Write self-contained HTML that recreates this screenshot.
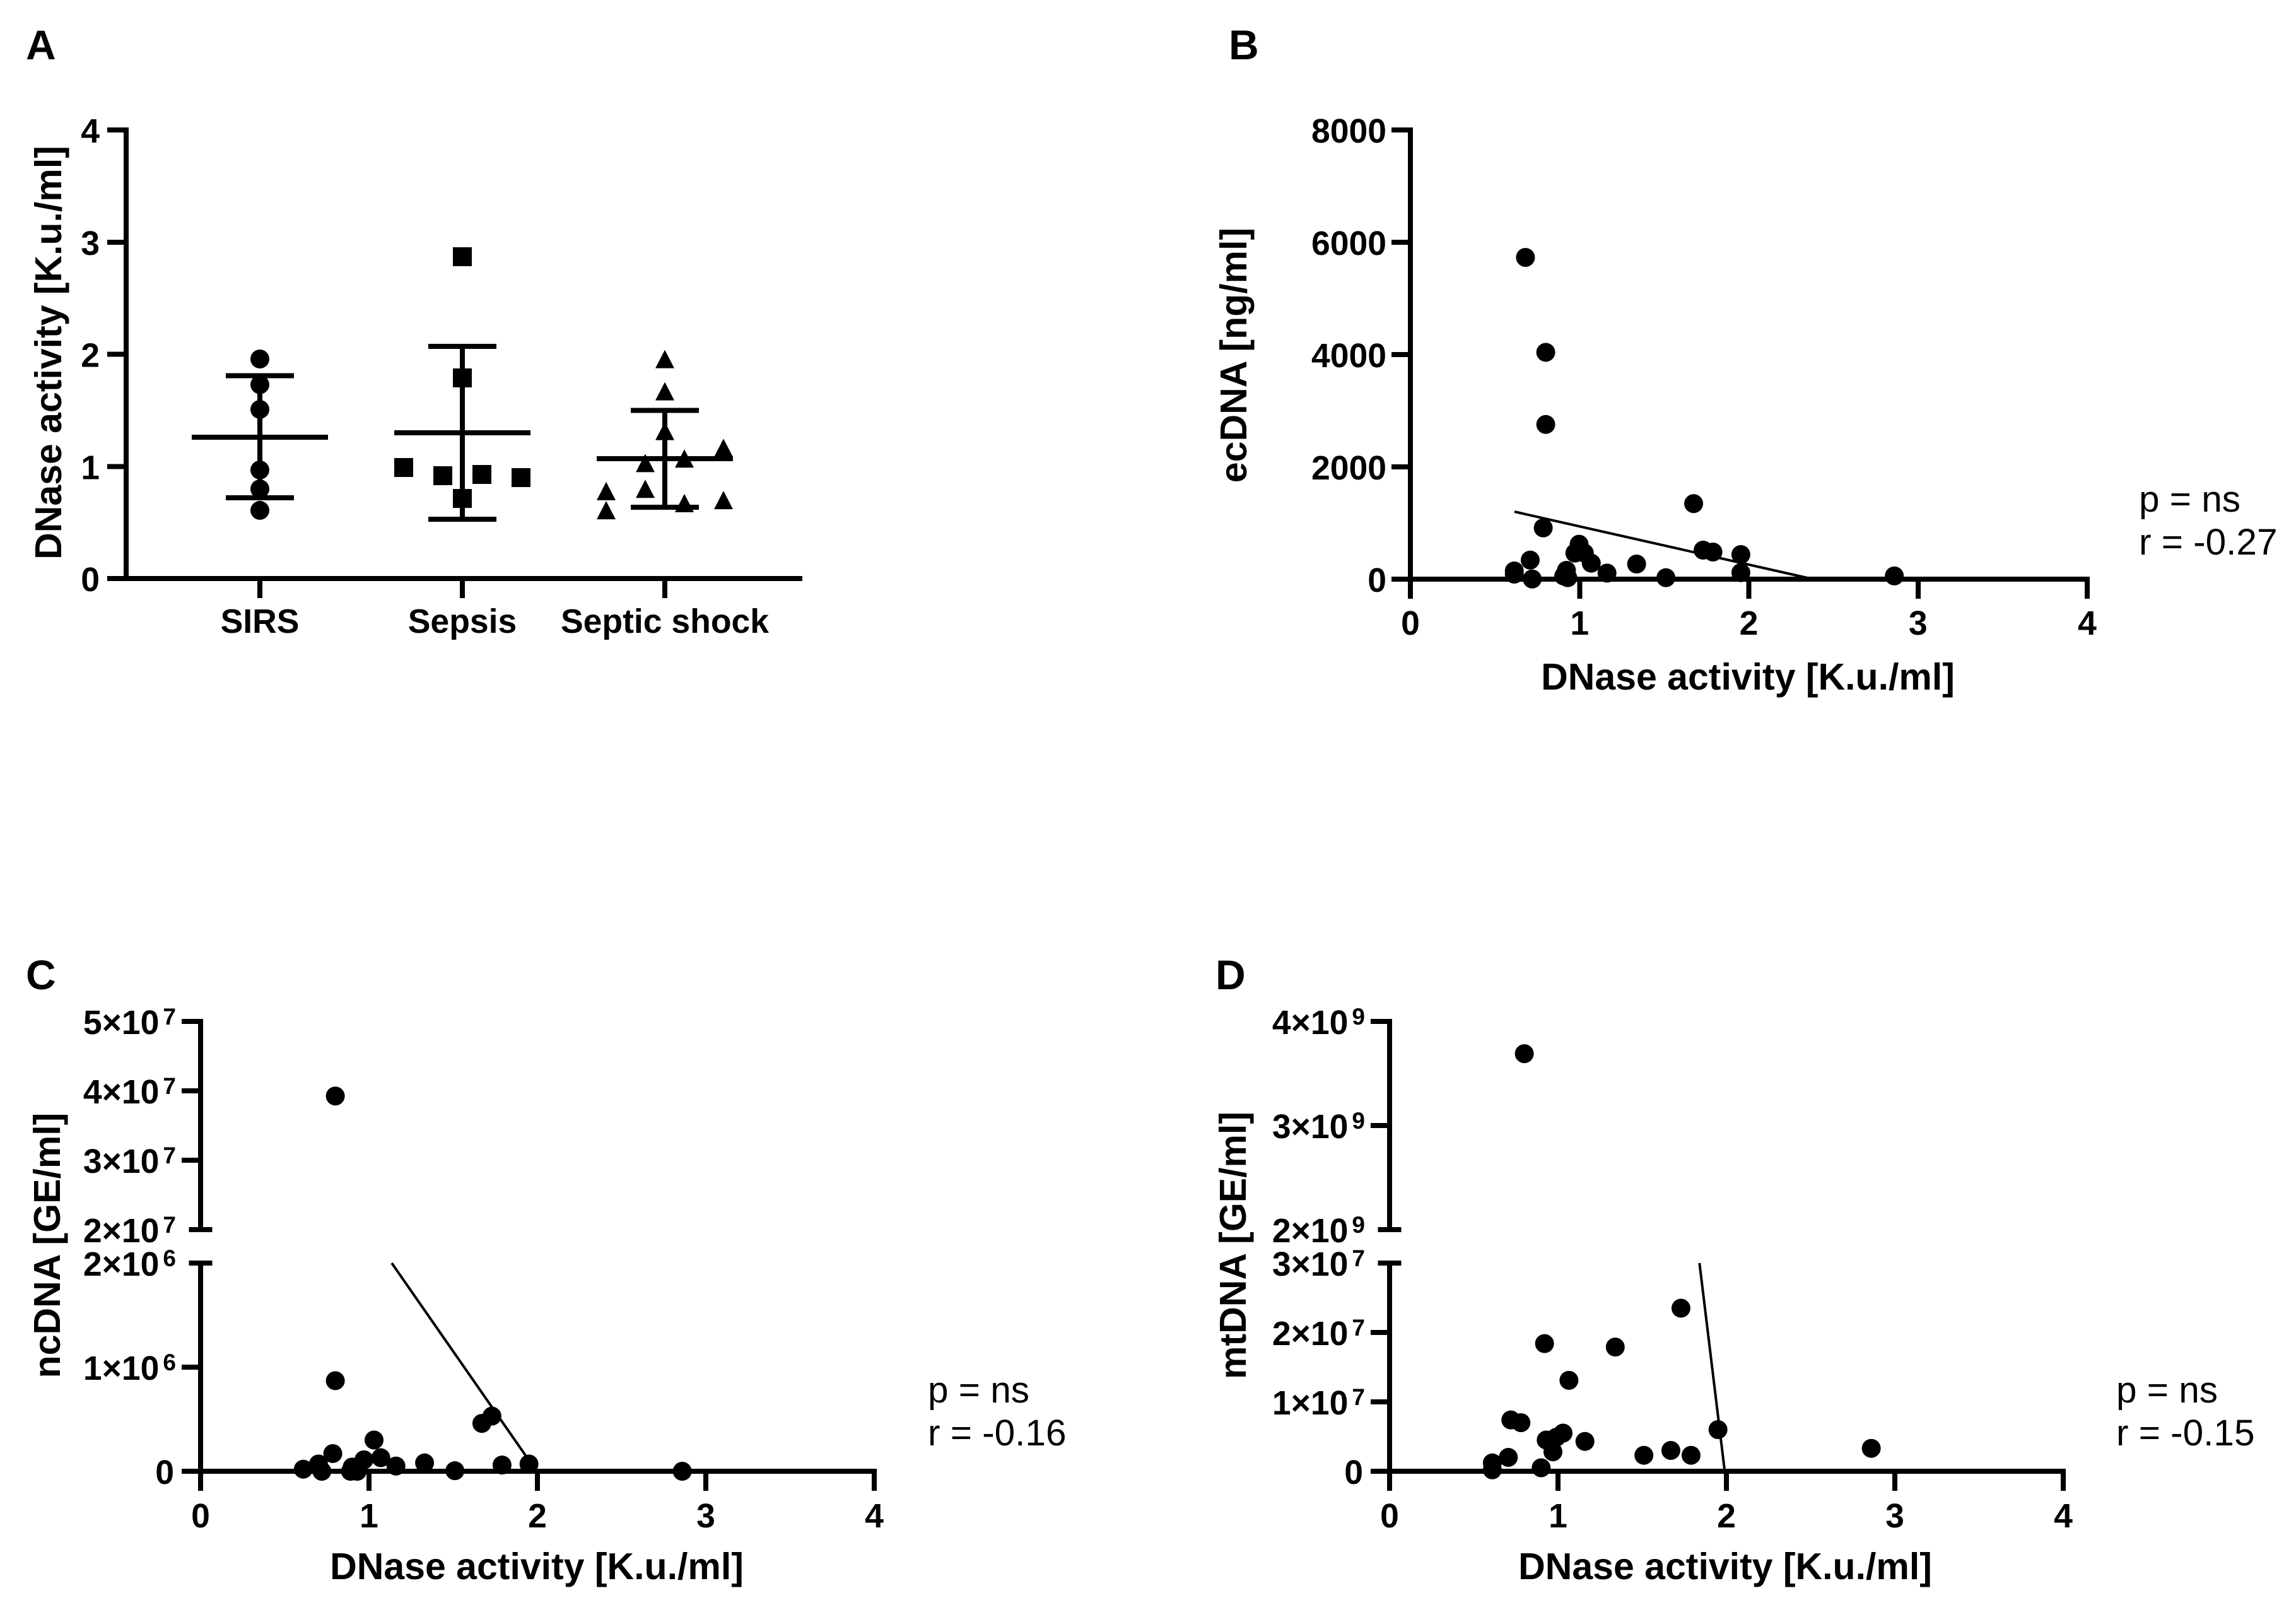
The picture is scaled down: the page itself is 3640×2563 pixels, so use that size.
<!DOCTYPE html>
<html lang="en">
<head>
<meta charset="utf-8">
<title>DNase activity panels</title>
<style>
html,body{margin:0;padding:0;background:#fff;}
svg{display:block;}
text{font-family:"Liberation Sans",Arial,sans-serif;fill:#000;}
.b{font-weight:bold;}
.axt{font-weight:bold;font-size:59px;}
.pl{font-weight:bold;font-size:66px;}
.st{font-size:58.5px;}
.tk{font-weight:bold;font-size:53.5px;}
</style>
</head>
<body>
<svg id="fig" xmlns="http://www.w3.org/2000/svg" width="3640" height="2563" viewBox="0 0 3640 2563">
  <rect x="0" y="0" width="3640" height="2563" fill="#fff"/>
  <text class="pl" x="41" y="94">A</text>
  <text class="pl" x="1948" y="94">B</text>
  <text class="pl" x="41" y="1568">C</text>
  <text class="pl" x="1927" y="1568">D</text>

  <text class="axt" transform="translate(97,559) rotate(-90)" text-anchor="middle">DNase activity [K.u./ml]</text>
  <text class="axt" transform="translate(1976,563) rotate(-90)" text-anchor="middle">ecDNA [ng/ml]</text>
  <text class="axt" transform="translate(95,1974) rotate(-90)" text-anchor="middle">ncDNA [GE/ml]</text>
  <text class="axt" transform="translate(1975,1974) rotate(-90)" text-anchor="middle">mtDNA [GE/ml]</text>

  <text class="axt" x="2771" y="1093" text-anchor="middle">DNase activity [K.u./ml]</text>
  <text class="axt" x="851" y="2503" text-anchor="middle">DNase activity [K.u./ml]</text>
  <text class="axt" x="2735" y="2503" text-anchor="middle">DNase activity [K.u./ml]</text>

  <text class="st" x="3391" y="811">p = ns</text>
  <text class="st" x="3391" y="879">r = -0.27</text>
  <text class="st" x="1471" y="2223">p = ns</text>
  <text class="st" x="1471" y="2291">r = -0.16</text>
  <text class="st" x="3355" y="2223">p = ns</text>
  <text class="st" x="3355" y="2291">r = -0.15</text>
</svg>
<script>
// Panel A data
const groupNames = ['SIRS', 'Sepsis', 'Septic shock'];
const aYTicks = [0, 1, 2, 3, 4];
const sirsValues = [1.958, 1.729, 1.508, 0.968, 0.799, 0.608];
const sirsSlots = [0, 0, 0, 0, 0, 0];
const sepsisValues = [2.87, 1.789, 0.99, 0.917, 0.928, 0.9, 0.714];
const sepsisSlots = [0, 0, -3, -1, 1, 3, 0];
const shockValues = [1.957, 1.67, 1.316, 1.165, 1.07, 1.03, 0.8, 0.78, 0.61, 0.7, 0.673];
const shockSlots = [0, 0, 0, 3, 1, -1, -1, -3, -3, 3, 1];
const groupMeans = [1.26, 1.3, 1.07];
const groupUpper = [1.808, 2.07, 1.5];
const groupLower = [0.72, 0.529, 0.636];

// Shared x ticks
const xTicks = [0, 1, 2, 3, 4];

// Panel B data
const bXValues = [0.68, 0.80, 0.80, 0.785, 1.674, 1.73, 1.788, 1.953, 1.953, 1.337, 1.51, 1.162, 1.069, 0.997, 1.028, 0.972, 0.922, 0.906, 0.93, 0.708, 0.614, 0.614, 0.72, 2.86];
const bYValues = [5730, 4040, 2755, 913, 1345, 517, 483, 438, 116, 270, 26, 108, 285, 622, 465, 465, 157, 56, 26, 340, 146, 90, 3, 58];
const bYTicks = [0, 2000, 4000, 6000, 8000];
const bFitX = [0.615, 2.38];
const bFitY = [1202, 0];

// Panel C data
const cXValues = [0.80, 0.80, 0.785, 0.61, 0.70, 0.72, 0.90, 0.93, 0.89, 0.97, 1.03, 1.07, 1.16, 1.33, 1.51, 1.67, 1.73, 1.79, 1.95, 2.86];
const cYValues = [39250000, 870000, 170000, 20000, 70000, 0, 40000, 0, 0, 110000, 300000, 130000, 50000, 80000, 5000, 460000, 530000, 60000, 70000, 0];
const cLowerTicks = [0, 1000000, 2000000];
const cUpperTicks = [20000000, 30000000, 40000000, 50000000];
const cFitX = [1.135, 1.995];
const cFitY = [2000000, 0];

// Panel D data
const dXValues = [0.80, 1.73, 0.92, 1.34, 1.065, 0.72, 0.78, 1.03, 0.99, 0.93, 0.97, 1.16, 1.51, 1.67, 1.79, 1.95, 2.86, 0.705, 0.61, 0.61, 0.90];
const dYValues = [3690000000, 23500000, 18400000, 17900000, 13100000, 7400000, 7000000, 5500000, 4900000, 4500000, 2800000, 4300000, 2300000, 3000000, 2300000, 6000000, 3300000, 2000000, 1200000, 200000, 500000];
const dLowerTicks = [0, 10000000, 20000000, 30000000];
const dUpperTicks = [2000000000, 3000000000, 4000000000];
const dFitX = [1.84, 1.99];
const dFitY = [30000000, 0];

const NS = 'http://www.w3.org/2000/svg';
const fig = document.getElementById('fig');

function mk(tag, name) {
  const el = document.createElementNS(NS, tag);
  
  
  fig.appendChild(el);
  return el;
}
function seg(x1, y1, x2, y2, w, name) {
  const el = mk('line', name);
  el.setAttribute('x1', x1);
  el.setAttribute('y1', y1);
  el.setAttribute('x2', x2);
  el.setAttribute('y2', y2);
  el.setAttribute('stroke', '#000');
  el.setAttribute('stroke-width', w);
  if (x1 === x2 || y1 === y2) el.setAttribute('shape-rendering', 'crispEdges');
  return el;
}
function dot(x, y, name) {
  const el = mk('circle', name);
  el.setAttribute('cx', x);
  el.setAttribute('cy', y);
  el.setAttribute('r', 15);
  el.setAttribute('fill', '#000');
  return el;
}
function square(x, y, name) {
  const el = mk('rect', name);
  el.setAttribute('x', x - 15);
  el.setAttribute('y', y - 15);
  el.setAttribute('width', 30);
  el.setAttribute('height', 30);
  el.setAttribute('fill', '#000');
  return el;
}
function tri(x, y, name) {
  const el = mk('polygon', name);
  el.setAttribute('points', (x - 15) + ',' + (y + 14.5) + ' ' + (x + 15) + ',' + (y + 14.5) + ' ' + x + ',' + (y - 14.5));
  el.setAttribute('fill', '#000');
  return el;
}
function label(x, y, txt, anchor, name) {
  const el = mk('text', name);
  el.setAttribute('class', 'tk');
  el.setAttribute('x', x);
  el.setAttribute('y', y);
  el.setAttribute('text-anchor', anchor);
  el.textContent = txt;
  return el;
}
function sciLabel(x, y, v, name) {
  if (v === 0) return label(x - 3, y, '0', 'end', name);
  const exp = Math.floor(Math.log10(v) + 1e-9);
  const man = Math.round(v / Math.pow(10, exp));
  const el = mk('text', name);
  el.setAttribute('class', 'tk');
  el.setAttribute('x', x);
  el.setAttribute('y', y);
  el.setAttribute('text-anchor', 'end');
  const a = document.createElementNS(NS, 'tspan');
  a.textContent = man + '×10';
  el.appendChild(a);
  const e = document.createElementNS(NS, 'tspan');
  e.setAttribute('font-size', '37');
  e.setAttribute('font-weight', 'bold');
  e.setAttribute('dx', '6');
  e.setAttribute('dy', '-15');
  e.textContent = exp;
  el.appendChild(e);
  return el;
}

// ---------- Panel A ----------
const aAxisX = 200, aY0 = 917, aYTop = 206, aCatX0 = 412, aCatStep = 321, aSlot = 31, AW = 8;
function aY(v) { return aY0 - v * (aY0 - aYTop) / 4; }
function aCat(i) { return aCatX0 + i * aCatStep; }

seg(aAxisX, aYTop - 4, aAxisX, aY0 + 4, AW, 'y-axis-a');
seg(aAxisX - 30, aY0, 1272, aY0, AW, 'x-axis-a');
aYTicks.forEach(function (v) {
  seg(aAxisX - 30, aY(v), aAxisX, aY(v), AW, 'y-tick-a');
  label(158, aY(v) + 20, String(v), 'end', 'y-tick-label-a');
});
groupNames.forEach(function (n, i) {
  seg(aCat(i), aY0, aCat(i), 948, AW, 'x-tick-a');
  label(aCat(i), 1003, n, 'middle', 'x-tick-label-a');
});
groupMeans.forEach(function (m, i) {
  const cx = aCat(i);
  seg(cx, aY(groupUpper[i]), cx, aY(groupLower[i]), AW, 'error-bar-stem');
  seg(cx - 54, aY(groupUpper[i]), cx + 54, aY(groupUpper[i]), AW, 'error-bar-upper-cap');
  seg(cx - 54, aY(groupLower[i]), cx + 54, aY(groupLower[i]), AW, 'error-bar-lower-cap');
  seg(cx - 108, aY(m), cx + 108, aY(m), AW, 'mean-line');
});
sirsValues.forEach(function (v, i) { dot(aCat(0) + sirsSlots[i] * aSlot, aY(v), 'sirs-point'); });
sepsisValues.forEach(function (v, i) { square(aCat(1) + sepsisSlots[i] * aSlot, aY(v), 'sepsis-point'); });
shockValues.forEach(function (v, i) { tri(aCat(2) + shockSlots[i] * aSlot, aY(v), 'septic-shock-point'); });

// ---------- Panel B ----------
const bAxisX = 2236, bXEnd = 3309, bY0 = 918, bYTop = 206;
function bX(v) { return bAxisX + v * (bXEnd - bAxisX) / 4; }
function bY(v) { return bY0 - v * (bY0 - bYTop) / 8000; }

seg(bAxisX, bYTop - 4, bAxisX, bY0 + 4, AW, 'y-axis-b');
seg(bAxisX - 30, bY0, bXEnd + 4, bY0, AW, 'x-axis-b');
bYTicks.forEach(function (v) {
  seg(bAxisX - 30, bY(v), bAxisX, bY(v), AW, 'y-tick-b');
  label(bAxisX - 38, bY(v) + 20, String(v), 'end', 'y-tick-label-b');
});
xTicks.forEach(function (v) {
  seg(bX(v), bY0, bX(v), 949, AW, 'x-tick-b');
  label(bX(v), 1006, String(v), 'middle', 'x-tick-label-b');
});
bXValues.forEach(function (v, i) { dot(bX(v), bY(bYValues[i]), 'ecdna-point'); });
seg(bX(bFitX[0]), bY(bFitY[0]), bX(bFitX[1]), bY(bFitY[1]), 4, 'regression-line-b');

// ---------- Panels C and D (broken y axis) ----------
function brokenPanel(key, axisX, xEnd, lowerMax, upperMin, upperMax, lowerTicks, upperTicks, xs, ys, fitX, fitY, pointName) {
  const y0 = 2332, yLowTop = 2002, yUpBot = 1949, yUpTop = 1619;
  function xS(v) { return axisX + v * (xEnd - axisX) / 4; }
  function yS(v) {
    if (v >= upperMin) return yUpBot - (v - upperMin) * (yUpBot - yUpTop) / (upperMax - upperMin);
    return y0 - v * (y0 - yLowTop) / lowerMax;
  }
  seg(axisX, yUpTop - 4, axisX, yUpBot + 4, AW, 'y-axis-upper-' + key);
  seg(axisX, yLowTop - 4, axisX, y0 + 4, AW, 'y-axis-lower-' + key);
  seg(axisX - 30, y0, xEnd + 4, y0, AW, 'x-axis-' + key);
  lowerTicks.concat(upperTicks).forEach(function (v) {
    const isBreak = v === lowerMax || v === upperMin;
    if (isBreak) {
      seg(axisX - 18.5, yS(v), axisX + 18.5, yS(v), AW, 'axis-break-cap-' + key);
    } else {
      seg(axisX - 30, yS(v), axisX, yS(v), AW, 'y-tick-' + key);
    }
    sciLabel(axisX - 39, yS(v) + 20, v, 'y-tick-label-' + key);
  });
  xTicks.forEach(function (v) {
    seg(xS(v), y0, xS(v), 2363, AW, 'x-tick-' + key);
    label(xS(v), 2421, String(v), 'middle', 'x-tick-label-' + key);
  });
  xs.forEach(function (v, i) { dot(xS(v), yS(ys[i]), pointName); });
  seg(xS(fitX[0]), yS(fitY[0]), xS(fitX[1]), yS(fitY[1]), 4, 'regression-line-' + key);
}
brokenPanel('c', 318, 1386, 2000000, 20000000, 50000000, cLowerTicks, cUpperTicks, cXValues, cYValues, cFitX, cFitY, 'ncdna-point');
brokenPanel('d', 2203, 3271, 30000000, 2000000000, 4000000000, dLowerTicks, dUpperTicks, dXValues, dYValues, dFitX, dFitY, 'mtdna-point');
</script>
</body>
</html>
